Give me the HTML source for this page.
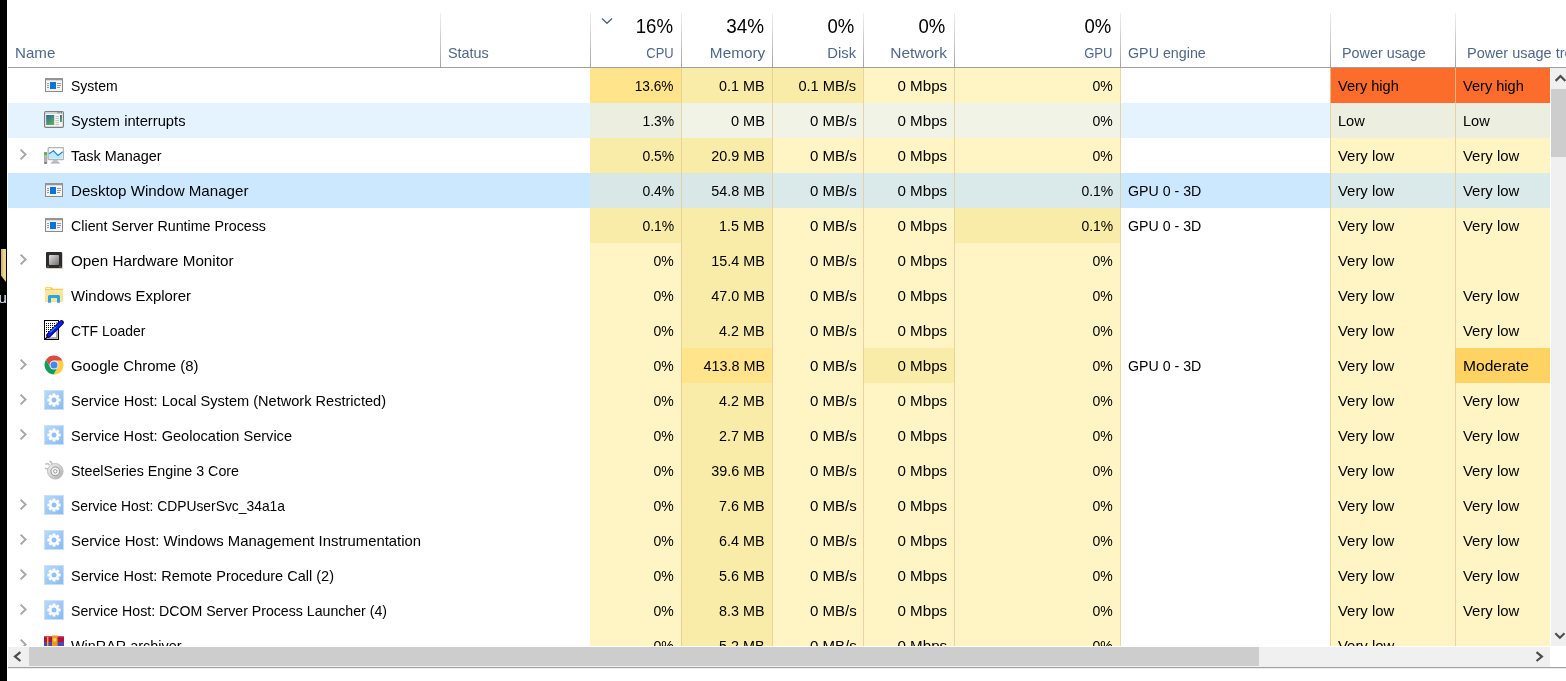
<!DOCTYPE html>
<html lang="en"><head><meta charset="utf-8"><title>Task Manager</title>
<style>
*{box-sizing:border-box;margin:0;padding:0}
html,body{width:1566px;height:681px;overflow:hidden;background:#fff}
body{position:relative;font-family:"Liberation Sans",sans-serif;font-size:15px;color:#000}
#strip{position:absolute;left:0;top:0;width:7px;height:681px;background:#000;overflow:hidden}
#fold{position:absolute;left:1px;top:249px;width:5px;height:33px;background:linear-gradient(90deg,#cdb06c,#dcc27e 40%,#eed898 55%,#e8d08a);clip-path:polygon(0 0,100% 0,100% 100%,0 80%)}
#u{position:absolute;left:-1.5px;top:289px;font-size:15px;color:#dfeaff;line-height:18px}
#list{position:absolute;left:8px;top:68px;width:1542px;height:578px;overflow:hidden}
#inner{position:absolute;left:-8px;top:-68px;width:1566px;height:681px}
.col{position:absolute;top:68px;height:578px;background:#fff4c4}
.cs{position:absolute;top:68px;height:578px;width:1px;background:rgba(230,202,152,.8)}
.rowbg{position:absolute;left:8px;width:1542px;height:35px}
.hc{position:absolute;height:35px}
.t{position:absolute;height:35px;line-height:35px;white-space:nowrap;transform-origin:0 50%}
.r{text-align:right;transform-origin:100% 50% !important}
.ic{position:absolute;left:44px;width:20px;height:20px}
.ic svg{display:block}
.chev{position:absolute;left:19px}
.hs{position:absolute;top:13px;width:1px;height:54px;background:linear-gradient(#efefef,#d4d4d4 40%,#a4a4a4)}
#hline{position:absolute;left:8px;top:67px;width:1558px;height:1px;background:#a0a0a0}
.h{position:absolute;top:43px;height:20px;line-height:20px;white-space:nowrap;color:#50678a;font-size:15px;transform-origin:0 50%}
.p{position:absolute;top:13px;height:26px;line-height:26px;white-space:nowrap;color:#000;font-size:19.5px;transform-origin:100% 50%}
#sort{position:absolute;left:601.4px;top:17px}
#hsb{position:absolute;left:8px;top:647px;width:1542px;height:20px;background:#f0f0f0}
#hth{position:absolute;left:21px;top:0;width:1230px;height:19px;background:#cdcdcd}
#bline{position:absolute;left:8px;top:667px;width:1558px;height:2px;background:linear-gradient(#a2a2a2 50%,#ececec 50%)}
#vsb{position:absolute;left:1551px;top:68px;width:15px;height:578px;background:#f0f0f0}
#vth{position:absolute;left:0;top:21px;width:15px;height:67.5px;background:#cdcdcd}
.arr{position:absolute}

#t0{transform:scaleX(0.9337)}#t1{transform:scaleX(0.9119)}#t2{transform:scaleX(0.9573)}#t3{transform:scaleX(0.9766)}#t4{transform:scaleX(1.0121)}#t5{transform:scaleX(0.9360)}#t6{transform:scaleX(0.9721)}#t7{transform:scaleX(0.9721)}#t8{transform:scaleX(0.9810)}#t9{transform:scaleX(0.9297)}#t10{transform:scaleX(0.9739)}#t11{transform:scaleX(1.0024)}#t12{transform:scaleX(1.0121)}#t13{transform:scaleX(0.9360)}#t14{transform:scaleX(0.9734)}#t15{transform:scaleX(0.9734)}#t16{transform:scaleX(0.9605)}#t17{transform:scaleX(0.9297)}#t18{transform:scaleX(0.9593)}#t19{transform:scaleX(1.0024)}#t20{transform:scaleX(1.0121)}#t21{transform:scaleX(0.9360)}#t22{transform:scaleX(0.9929)}#t23{transform:scaleX(0.9929)}#t24{transform:scaleX(1.0090)}#t25{transform:scaleX(0.9297)}#t26{transform:scaleX(0.9593)}#t27{transform:scaleX(1.0024)}#t28{transform:scaleX(1.0121)}#t29{transform:scaleX(0.9297)}#t30{transform:scaleX(0.9454)}#t31{transform:scaleX(0.9929)}#t32{transform:scaleX(0.9929)}#t33{transform:scaleX(0.9509)}#t34{transform:scaleX(0.9297)}#t35{transform:scaleX(0.9573)}#t36{transform:scaleX(1.0024)}#t37{transform:scaleX(1.0121)}#t38{transform:scaleX(0.9297)}#t39{transform:scaleX(0.9454)}#t40{transform:scaleX(0.9929)}#t41{transform:scaleX(0.9929)}#t42{transform:scaleX(1.0151)}#t43{transform:scaleX(0.9360)}#t44{transform:scaleX(0.9593)}#t45{transform:scaleX(1.0024)}#t46{transform:scaleX(1.0121)}#t47{transform:scaleX(0.9360)}#t48{transform:scaleX(0.9929)}#t49{transform:scaleX(0.9928)}#t50{transform:scaleX(0.9360)}#t51{transform:scaleX(0.9593)}#t52{transform:scaleX(1.0024)}#t53{transform:scaleX(1.0121)}#t54{transform:scaleX(0.9360)}#t55{transform:scaleX(0.9929)}#t56{transform:scaleX(0.9929)}#t57{transform:scaleX(0.9307)}#t58{transform:scaleX(0.9360)}#t59{transform:scaleX(0.9573)}#t60{transform:scaleX(1.0024)}#t61{transform:scaleX(1.0121)}#t62{transform:scaleX(0.9360)}#t63{transform:scaleX(0.9929)}#t64{transform:scaleX(0.9929)}#t65{transform:scaleX(0.9931)}#t66{transform:scaleX(0.9360)}#t67{transform:scaleX(0.9608)}#t68{transform:scaleX(1.0024)}#t69{transform:scaleX(1.0121)}#t70{transform:scaleX(0.9360)}#t71{transform:scaleX(0.9454)}#t72{transform:scaleX(0.9929)}#t73{transform:scaleX(1.0383)}#t74{transform:scaleX(0.9714)}#t75{transform:scaleX(0.9360)}#t76{transform:scaleX(0.9573)}#t77{transform:scaleX(1.0024)}#t78{transform:scaleX(1.0121)}#t79{transform:scaleX(0.9360)}#t80{transform:scaleX(0.9929)}#t81{transform:scaleX(0.9929)}#t82{transform:scaleX(0.9710)}#t83{transform:scaleX(0.9360)}#t84{transform:scaleX(0.9573)}#t85{transform:scaleX(1.0024)}#t86{transform:scaleX(1.0121)}#t87{transform:scaleX(0.9360)}#t88{transform:scaleX(0.9929)}#t89{transform:scaleX(0.9929)}#t90{transform:scaleX(0.9503)}#t91{transform:scaleX(0.9360)}#t92{transform:scaleX(0.9593)}#t93{transform:scaleX(1.0024)}#t94{transform:scaleX(1.0121)}#t95{transform:scaleX(0.9360)}#t96{transform:scaleX(0.9929)}#t97{transform:scaleX(0.9929)}#t98{transform:scaleX(0.9233)}#t99{transform:scaleX(0.9360)}#t100{transform:scaleX(0.9573)}#t101{transform:scaleX(1.0024)}#t102{transform:scaleX(1.0121)}#t103{transform:scaleX(0.9360)}#t104{transform:scaleX(0.9929)}#t105{transform:scaleX(0.9929)}#t106{transform:scaleX(0.9901)}#t107{transform:scaleX(0.9360)}#t108{transform:scaleX(0.9573)}#t109{transform:scaleX(1.0024)}#t110{transform:scaleX(1.0121)}#t111{transform:scaleX(0.9360)}#t112{transform:scaleX(0.9929)}#t113{transform:scaleX(0.9929)}#t114{transform:scaleX(0.9677)}#t115{transform:scaleX(0.9360)}#t116{transform:scaleX(0.9573)}#t117{transform:scaleX(1.0024)}#t118{transform:scaleX(1.0121)}#t119{transform:scaleX(0.9360)}#t120{transform:scaleX(0.9929)}#t121{transform:scaleX(0.9929)}#t122{transform:scaleX(0.9430)}#t123{transform:scaleX(0.9360)}#t124{transform:scaleX(0.9573)}#t125{transform:scaleX(1.0024)}#t126{transform:scaleX(1.0121)}#t127{transform:scaleX(0.9360)}#t128{transform:scaleX(0.9929)}#t129{transform:scaleX(0.9929)}#t130{transform:scaleX(0.9606)}#t131{transform:scaleX(0.9360)}#t132{transform:scaleX(0.9573)}#t133{transform:scaleX(1.0024)}#t134{transform:scaleX(1.0121)}#t135{transform:scaleX(0.9360)}#t136{transform:scaleX(0.9929)}#t137{transform:scaleX(1.0071)}#t138{transform:scaleX(0.9593)}#t139{transform:scaleX(0.8620)}#t140{transform:scaleX(1.0208)}#t141{transform:scaleX(0.9873)}#t142{transform:scaleX(1.0324)}#t143{transform:scaleX(0.8704)}#t144{transform:scaleX(0.9520)}#t145{transform:scaleX(0.9570)}#t146{transform:scaleX(0.9673)}#t147{transform:scaleX(0.9556)}#t148{transform:scaleX(0.9685)}#t149{transform:scaleX(0.9508)}#t150{transform:scaleX(0.9508)}#t151{transform:scaleX(0.9508)}
</style></head><body>
<div id="strip"><div id="fold"></div><div id="u">u</div></div>
<div class="hs" style="left:440px"></div>
<div class="hs" style="left:590px"></div>
<div class="hs" style="left:681px"></div>
<div class="hs" style="left:772px"></div>
<div class="hs" style="left:863px"></div>
<div class="hs" style="left:954px"></div>
<div class="hs" style="left:1120px"></div>
<div class="hs" style="left:1330px"></div>
<div class="hs" style="left:1455px"></div>
<div class="h" id="t137" style="left:15px">Name</div>
<div class="h" id="t138" style="left:448px">Status</div>
<div class="h r" id="t139" style="right:892px">CPU</div>
<div class="h r" id="t140" style="right:800.5px">Memory</div>
<div class="h r" id="t141" style="right:709.5px">Disk</div>
<div class="h r" id="t142" style="right:618.5px">Network</div>
<div class="h r" id="t143" style="right:453px">GPU</div>
<div class="h" id="t144" style="left:1128px">GPU engine</div>
<div class="h" id="t145" style="left:1342px">Power usage</div>
<div class="h" id="t146" style="left:1467px">Power usage trend</div>
<div class="p r" id="t147" style="right:892.5px">16%</div>
<div class="p r" id="t148" style="right:801.5px">34%</div>
<div class="p r" id="t149" style="right:711.5px">0%</div>
<div class="p r" id="t150" style="right:620.5px">0%</div>
<div class="p r" id="t151" style="right:454.5px">0%</div>
<svg id="sort" width="12" height="8" viewBox="0 0 12 8"><path d="M1 1.5 L6 6.3 L11 1.5" fill="none" stroke="#4c607a" stroke-width="1.2"/></svg>
<div id="hline"></div>
<div id="list"><div id="inner">
<div class="col" style="left:590px;width:91px"></div><div class="col" style="left:681px;width:91px"></div><div class="col" style="left:772px;width:91px"></div><div class="col" style="left:863px;width:91px"></div><div class="col" style="left:954px;width:166px"></div><div class="col" style="left:1330px;width:125px"></div><div class="col" style="left:1455px;width:95px"></div>
<div class="hc" style="left:590px;top:68px;width:91px;background:#ffe48c"></div>
<div class="hc" style="left:681px;top:68px;width:91px;background:#f9eca8"></div>
<div class="hc" style="left:772px;top:68px;width:91px;background:#f9eca8"></div>
<div class="hc" style="left:1330px;top:68px;width:125px;background:#fc6c2a"></div>
<div class="hc" style="left:1455px;top:68px;width:95px;background:#fc6c2a"></div>
<div class="ic" style="top:75px"><svg width="20" height="20" viewBox="0 0 20 20"><rect x="1.5" y="3.5" width="17" height="13" fill="#f4f4f4" stroke="#8a8a8a"/><rect x="1" y="3" width="18" height="2" fill="#949494"/><rect x="2" y="5" width="16" height="1" fill="#dcdcdc"/><rect x="6" y="7" width="6" height="7" fill="#0b73da"/><path d="M3 8.5h2M3 10.5h2M3 12.5h2M13 8.5h4M13 10.5h4M13 12.5h3" stroke="#9a9a9a" stroke-width="1"/></svg></div>
<div class="t nm" id="t0" style="left:71px;top:68px">System</div>
<div class="t r" id="t1" style="right:892px;top:68px">13.6%</div>
<div class="t r" id="t2" style="right:801px;top:68px">0.1 MB</div>
<div class="t r" id="t3" style="right:709.5px;top:68px">0.1 MB/s</div>
<div class="t r" id="t4" style="right:618.5px;top:68px">0 Mbps</div>
<div class="t r" id="t5" style="right:453px;top:68px">0%</div>
<div class="t" id="t6" style="left:1338px;top:68px">Very high</div>
<div class="t" id="t7" style="left:1463px;top:68px">Very high</div>
<div class="rowbg" style="top:103px;background:#e5f3ff"></div>
<div class="hc" style="left:590px;top:103px;width:91px;background:#ecefe0"></div>
<div class="hc" style="left:681px;top:103px;width:91px;background:#f0f3e6"></div>
<div class="hc" style="left:772px;top:103px;width:91px;background:#f0f3e6"></div>
<div class="hc" style="left:863px;top:103px;width:91px;background:#f0f3e6"></div>
<div class="hc" style="left:954px;top:103px;width:166px;background:#f0f3e6"></div>
<div class="hc" style="left:1330px;top:103px;width:125px;background:#ecefe0"></div>
<div class="hc" style="left:1455px;top:103px;width:95px;background:#ecefe0"></div>
<div class="ic" style="top:110px"><svg width="20" height="20" viewBox="0 0 20 20"><defs><linearGradient id="gi" x1="0" y1="0" x2="0.6" y2="1"><stop offset="0" stop-color="#2d62a8"/><stop offset="1" stop-color="#56ae57"/></linearGradient></defs><rect x="0.6" y="1.6" width="18.8" height="15.8" rx="1.2" fill="#f6f6f6" stroke="#7d7d7d" stroke-width="1.2"/><rect x="1.2" y="2.2" width="17.6" height="1.6" fill="#cfcfcf"/><path d="M13.5 2.8h1M15.3 2.8h1M17 2.8h1" stroke="#555" stroke-width="1"/><rect x="2.2" y="5" width="8" height="10" fill="url(#gi)"/><path d="M11.5 6.5h3.5M11.5 8.5h3.5M11.5 10.5h3.5M11.5 12.5h3.5M11.5 14.5h3.5" stroke="#c4c4c4" stroke-width="1"/><rect x="16" y="5" width="2" height="7" fill="url(#gi)"/></svg></div>
<div class="t nm" id="t8" style="left:71px;top:103px">System interrupts</div>
<div class="t r" id="t9" style="right:892px;top:103px">1.3%</div>
<div class="t r" id="t10" style="right:801px;top:103px">0 MB</div>
<div class="t r" id="t11" style="right:709.5px;top:103px">0 MB/s</div>
<div class="t r" id="t12" style="right:618.5px;top:103px">0 Mbps</div>
<div class="t r" id="t13" style="right:453px;top:103px">0%</div>
<div class="t" id="t14" style="left:1338px;top:103px">Low</div>
<div class="t" id="t15" style="left:1463px;top:103px">Low</div>
<div class="hc" style="left:590px;top:138px;width:91px;background:#f9eca8"></div>
<div class="hc" style="left:681px;top:138px;width:91px;background:#f9eca8"></div>
<svg class="chev" style="top:148px" width="9" height="13" viewBox="0 0 9 13"><path d="M1.6 1.6 L6.6 6.5 L1.6 11.4" fill="none" stroke="#a6a6a6" stroke-width="1.9"/></svg>
<div class="ic" style="top:145px"><svg width="20" height="20" viewBox="0 0 20 20"><rect x="0.3" y="7.3" width="2.6" height="11.2" fill="#b9b9b9" stroke="#8f8f8f" stroke-width="0.6"/><rect x="0.5" y="7.4" width="2.2" height="2.6" fill="#35c22c"/><rect x="0.3" y="17.2" width="2.6" height="1.4" fill="#777"/><path d="M9.5 15 L7 18 H15.5 L13 15Z" fill="#c2c2c2"/><rect x="6.8" y="17.6" width="9" height="0.9" fill="#a8a8a8"/><rect x="4.2" y="2.6" width="15.3" height="12" rx="0.8" fill="#fff" stroke="#b4b4b4" stroke-width="1.3"/><path d="M5 8.3 L9.5 5.8 L14 10.3 L18.7 7 V13.8 H5Z" fill="#bfe9fa"/><path d="M5 8.8 L9.5 5.8 L14 10.5 L18.7 6.8" fill="none" stroke="#1a86cf" stroke-width="1.1"/></svg></div>
<div class="t nm" id="t16" style="left:71px;top:138px">Task Manager</div>
<div class="t r" id="t17" style="right:892px;top:138px">0.5%</div>
<div class="t r" id="t18" style="right:801px;top:138px">20.9 MB</div>
<div class="t r" id="t19" style="right:709.5px;top:138px">0 MB/s</div>
<div class="t r" id="t20" style="right:618.5px;top:138px">0 Mbps</div>
<div class="t r" id="t21" style="right:453px;top:138px">0%</div>
<div class="t" id="t22" style="left:1338px;top:138px">Very low</div>
<div class="t" id="t23" style="left:1463px;top:138px">Very low</div>
<div class="rowbg" style="top:173px;background:#cce8ff"></div>
<div class="hc" style="left:590px;top:173px;width:91px;background:#d9e8e7"></div>
<div class="hc" style="left:681px;top:173px;width:91px;background:#d9e8e7"></div>
<div class="hc" style="left:772px;top:173px;width:91px;background:#dae9e9"></div>
<div class="hc" style="left:863px;top:173px;width:91px;background:#dae9e9"></div>
<div class="hc" style="left:954px;top:173px;width:166px;background:#dae9e9"></div>
<div class="hc" style="left:1330px;top:173px;width:125px;background:#dae9e9"></div>
<div class="hc" style="left:1455px;top:173px;width:95px;background:#dae9e9"></div>
<div class="ic" style="top:180px"><svg width="20" height="20" viewBox="0 0 20 20"><rect x="1.5" y="3.5" width="17" height="13" fill="#f4f4f4" stroke="#8a8a8a"/><rect x="1" y="3" width="18" height="2" fill="#949494"/><rect x="2" y="5" width="16" height="1" fill="#dcdcdc"/><rect x="6" y="7" width="6" height="7" fill="#0b73da"/><path d="M3 8.5h2M3 10.5h2M3 12.5h2M13 8.5h4M13 10.5h4M13 12.5h3" stroke="#9a9a9a" stroke-width="1"/></svg></div>
<div class="t nm" id="t24" style="left:71px;top:173px">Desktop Window Manager</div>
<div class="t r" id="t25" style="right:892px;top:173px">0.4%</div>
<div class="t r" id="t26" style="right:801px;top:173px">54.8 MB</div>
<div class="t r" id="t27" style="right:709.5px;top:173px">0 MB/s</div>
<div class="t r" id="t28" style="right:618.5px;top:173px">0 Mbps</div>
<div class="t r" id="t29" style="right:453px;top:173px">0.1%</div>
<div class="t" id="t30" style="left:1128px;top:173px">GPU 0 - 3D</div>
<div class="t" id="t31" style="left:1338px;top:173px">Very low</div>
<div class="t" id="t32" style="left:1463px;top:173px">Very low</div>
<div class="hc" style="left:590px;top:208px;width:91px;background:#f9eca8"></div>
<div class="hc" style="left:681px;top:208px;width:91px;background:#f9eca8"></div>
<div class="hc" style="left:954px;top:208px;width:166px;background:#f9eca8"></div>
<div class="ic" style="top:215px"><svg width="20" height="20" viewBox="0 0 20 20"><rect x="1.5" y="3.5" width="17" height="13" fill="#f4f4f4" stroke="#8a8a8a"/><rect x="1" y="3" width="18" height="2" fill="#949494"/><rect x="2" y="5" width="16" height="1" fill="#dcdcdc"/><rect x="6" y="7" width="6" height="7" fill="#0b73da"/><path d="M3 8.5h2M3 10.5h2M3 12.5h2M13 8.5h4M13 10.5h4M13 12.5h3" stroke="#9a9a9a" stroke-width="1"/></svg></div>
<div class="t nm" id="t33" style="left:71px;top:208px">Client Server Runtime Process</div>
<div class="t r" id="t34" style="right:892px;top:208px">0.1%</div>
<div class="t r" id="t35" style="right:801px;top:208px">1.5 MB</div>
<div class="t r" id="t36" style="right:709.5px;top:208px">0 MB/s</div>
<div class="t r" id="t37" style="right:618.5px;top:208px">0 Mbps</div>
<div class="t r" id="t38" style="right:453px;top:208px">0.1%</div>
<div class="t" id="t39" style="left:1128px;top:208px">GPU 0 - 3D</div>
<div class="t" id="t40" style="left:1338px;top:208px">Very low</div>
<div class="t" id="t41" style="left:1463px;top:208px">Very low</div>
<div class="hc" style="left:681px;top:243px;width:91px;background:#f9eca8"></div>
<svg class="chev" style="top:253px" width="9" height="13" viewBox="0 0 9 13"><path d="M1.6 1.6 L6.6 6.5 L1.6 11.4" fill="none" stroke="#a6a6a6" stroke-width="1.9"/></svg>
<div class="ic" style="top:250px"><svg width="20" height="20" viewBox="0 0 20 20"><defs><linearGradient id="go" x1="0" y1="0" x2="1" y2="1"><stop offset="0" stop-color="#e2e2e2"/><stop offset="1" stop-color="#6f6f6f"/></linearGradient></defs><rect x="2.6" y="2.6" width="16.4" height="16.4" rx="1" fill="#000" opacity=".18"/><rect x="2" y="2" width="16" height="16" rx="1" fill="#2b2b2b"/><rect x="5" y="5" width="10" height="10" rx="1" fill="url(#go)"/><path d="M3 16.8h2M15 16.8h2" stroke="#b08a20" stroke-width=".7"/></svg></div>
<div class="t nm" id="t42" style="left:71px;top:243px">Open Hardware Monitor</div>
<div class="t r" id="t43" style="right:892px;top:243px">0%</div>
<div class="t r" id="t44" style="right:801px;top:243px">15.4 MB</div>
<div class="t r" id="t45" style="right:709.5px;top:243px">0 MB/s</div>
<div class="t r" id="t46" style="right:618.5px;top:243px">0 Mbps</div>
<div class="t r" id="t47" style="right:453px;top:243px">0%</div>
<div class="t" id="t48" style="left:1338px;top:243px">Very low</div>
<div class="hc" style="left:681px;top:278px;width:91px;background:#f9eca8"></div>
<div class="ic" style="top:285px"><svg width="20" height="20" viewBox="0 0 20 20"><path d="M1 3.2 q0-1 1-1 h5.6 l1.4 1.5 H19 V17 H1Z" fill="#f7c947"/><rect x="2" y="3" width="4.5" height="1" fill="#fff8e0"/><rect x="1" y="4.8" width="18" height="12.1" fill="#ffe595"/><path d="M4 17.7 V11.5 q0-1.5 1.5-1.5 h9 q1.5 0 1.5 1.5 V17.7 H13 V13 H7 V17.7Z" fill="#27a6e5"/></svg></div>
<div class="t nm" id="t49" style="left:71px;top:278px">Windows Explorer</div>
<div class="t r" id="t50" style="right:892px;top:278px">0%</div>
<div class="t r" id="t51" style="right:801px;top:278px">47.0 MB</div>
<div class="t r" id="t52" style="right:709.5px;top:278px">0 MB/s</div>
<div class="t r" id="t53" style="right:618.5px;top:278px">0 Mbps</div>
<div class="t r" id="t54" style="right:453px;top:278px">0%</div>
<div class="t" id="t55" style="left:1338px;top:278px">Very low</div>
<div class="t" id="t56" style="left:1463px;top:278px">Very low</div>
<div class="hc" style="left:681px;top:313px;width:91px;background:#f9eca8"></div>
<div class="ic" style="top:320px"><svg width="20" height="20" viewBox="0 0 20 20"><rect x="0.5" y="0.5" width="14" height="19" fill="#fff" stroke="#000"/><path d="M13 2 V18 H2" fill="none" stroke="#9a9a9a" stroke-width="1.6"/><path d="M2 3.5h9M2 5.5h9M2 7.5h7M2 9.5h5M2 11.5h3" stroke="#000" stroke-width="1" stroke-dasharray="1 1"/><path d="M1 19 L4.5 16" stroke="#000" stroke-width="1.2"/><path d="M4.5 15.5 L17.5 2.5" stroke="#00005a" stroke-width="4.6" stroke-linecap="round"/><path d="M4.8 15.2 L17.3 2.7" stroke="#0a1cff" stroke-width="3" stroke-linecap="round"/><path d="M6 12.5 L12 6.5" stroke="#35d9ff" stroke-width="1"/></svg></div>
<div class="t nm" id="t57" style="left:71px;top:313px">CTF Loader</div>
<div class="t r" id="t58" style="right:892px;top:313px">0%</div>
<div class="t r" id="t59" style="right:801px;top:313px">4.2 MB</div>
<div class="t r" id="t60" style="right:709.5px;top:313px">0 MB/s</div>
<div class="t r" id="t61" style="right:618.5px;top:313px">0 Mbps</div>
<div class="t r" id="t62" style="right:453px;top:313px">0%</div>
<div class="t" id="t63" style="left:1338px;top:313px">Very low</div>
<div class="t" id="t64" style="left:1463px;top:313px">Very low</div>
<div class="hc" style="left:681px;top:348px;width:91px;background:#ffe48c"></div>
<div class="hc" style="left:863px;top:348px;width:91px;background:#f9eca8"></div>
<div class="hc" style="left:1455px;top:348px;width:95px;background:#ffd264"></div>
<svg class="chev" style="top:358px" width="9" height="13" viewBox="0 0 9 13"><path d="M1.6 1.6 L6.6 6.5 L1.6 11.4" fill="none" stroke="#a6a6a6" stroke-width="1.9"/></svg>
<div class="ic" style="top:355px"><svg width="20" height="20" viewBox="0 0 20 20"><path d="M6.23 12.18 L2.01 4.86 A9.5 9.5 0 0 1 18.45 5.65 L10.00 5.65 L10 10Z" fill="#dc4a3d"/><path d="M10.00 5.65 L18.45 5.65 A9.5 9.5 0 0 1 9.54 19.49 L13.77 12.17 L10 10Z" fill="#ffce43"/><path d="M13.77 12.17 L9.54 19.49 A9.5 9.5 0 0 1 2.01 4.86 L6.23 12.18 L10 10Z" fill="#109d59"/><circle cx="10" cy="10" r="4.5" fill="#f4f4f4"/><circle cx="10" cy="10" r="3.5" fill="#4586f3"/></svg></div>
<div class="t nm" id="t65" style="left:71px;top:348px">Google Chrome (8)</div>
<div class="t r" id="t66" style="right:892px;top:348px">0%</div>
<div class="t r" id="t67" style="right:801px;top:348px">413.8 MB</div>
<div class="t r" id="t68" style="right:709.5px;top:348px">0 MB/s</div>
<div class="t r" id="t69" style="right:618.5px;top:348px">0 Mbps</div>
<div class="t r" id="t70" style="right:453px;top:348px">0%</div>
<div class="t" id="t71" style="left:1128px;top:348px">GPU 0 - 3D</div>
<div class="t" id="t72" style="left:1338px;top:348px">Very low</div>
<div class="t" id="t73" style="left:1463px;top:348px">Moderate</div>
<div class="hc" style="left:681px;top:383px;width:91px;background:#f9eca8"></div>
<svg class="chev" style="top:393px" width="9" height="13" viewBox="0 0 9 13"><path d="M1.6 1.6 L6.6 6.5 L1.6 11.4" fill="none" stroke="#a6a6a6" stroke-width="1.9"/></svg>
<div class="ic" style="top:390px"><svg width="20" height="20" viewBox="0 0 20 20"><defs><linearGradient id="gs" x1="0" y1="0" x2="1" y2="1"><stop offset="0" stop-color="#badafa"/><stop offset="1" stop-color="#86baf0"/></linearGradient></defs><rect x="0.5" y="0.5" width="19" height="19" fill="url(#gs)" stroke="#c9e0f8"/><g transform="translate(10 10)" fill="#fff"><g id="th"><rect x="-1.5" y="-6.6" width="3" height="13.2" rx=".6"/></g><rect x="-1.5" y="-6.6" width="3" height="13.2" rx=".6" transform="rotate(45)"/><rect x="-1.5" y="-6.6" width="3" height="13.2" rx=".6" transform="rotate(90)"/><rect x="-1.5" y="-6.6" width="3" height="13.2" rx=".6" transform="rotate(135)"/><circle r="4.8"/><circle r="2.5" fill="#8fc1f4"/></g></svg></div>
<div class="t nm" id="t74" style="left:71px;top:383px">Service Host: Local System (Network Restricted)</div>
<div class="t r" id="t75" style="right:892px;top:383px">0%</div>
<div class="t r" id="t76" style="right:801px;top:383px">4.2 MB</div>
<div class="t r" id="t77" style="right:709.5px;top:383px">0 MB/s</div>
<div class="t r" id="t78" style="right:618.5px;top:383px">0 Mbps</div>
<div class="t r" id="t79" style="right:453px;top:383px">0%</div>
<div class="t" id="t80" style="left:1338px;top:383px">Very low</div>
<div class="t" id="t81" style="left:1463px;top:383px">Very low</div>
<div class="hc" style="left:681px;top:418px;width:91px;background:#f9eca8"></div>
<svg class="chev" style="top:428px" width="9" height="13" viewBox="0 0 9 13"><path d="M1.6 1.6 L6.6 6.5 L1.6 11.4" fill="none" stroke="#a6a6a6" stroke-width="1.9"/></svg>
<div class="ic" style="top:425px"><svg width="20" height="20" viewBox="0 0 20 20"><defs><linearGradient id="gs" x1="0" y1="0" x2="1" y2="1"><stop offset="0" stop-color="#badafa"/><stop offset="1" stop-color="#86baf0"/></linearGradient></defs><rect x="0.5" y="0.5" width="19" height="19" fill="url(#gs)" stroke="#c9e0f8"/><g transform="translate(10 10)" fill="#fff"><g id="th"><rect x="-1.5" y="-6.6" width="3" height="13.2" rx=".6"/></g><rect x="-1.5" y="-6.6" width="3" height="13.2" rx=".6" transform="rotate(45)"/><rect x="-1.5" y="-6.6" width="3" height="13.2" rx=".6" transform="rotate(90)"/><rect x="-1.5" y="-6.6" width="3" height="13.2" rx=".6" transform="rotate(135)"/><circle r="4.8"/><circle r="2.5" fill="#8fc1f4"/></g></svg></div>
<div class="t nm" id="t82" style="left:71px;top:418px">Service Host: Geolocation Service</div>
<div class="t r" id="t83" style="right:892px;top:418px">0%</div>
<div class="t r" id="t84" style="right:801px;top:418px">2.7 MB</div>
<div class="t r" id="t85" style="right:709.5px;top:418px">0 MB/s</div>
<div class="t r" id="t86" style="right:618.5px;top:418px">0 Mbps</div>
<div class="t r" id="t87" style="right:453px;top:418px">0%</div>
<div class="t" id="t88" style="left:1338px;top:418px">Very low</div>
<div class="t" id="t89" style="left:1463px;top:418px">Very low</div>
<div class="hc" style="left:681px;top:453px;width:91px;background:#f9eca8"></div>
<div class="ic" style="top:460px"><svg width="20" height="20" viewBox="0 0 20 20"><defs><linearGradient id="gq" x1="0" y1="0" x2="1" y2="1"><stop offset="0" stop-color="#f6f6f6"/><stop offset="1" stop-color="#adadad"/></linearGradient></defs><path d="M2 4 q1.5-1 3 .5 M6 1.5 q1.8 .3 2 2.5 M1.5 8.5 q1.5-.5 2.5 1" fill="none" stroke="#c6c6c6" stroke-width="1.8" stroke-linecap="round"/><circle cx="11.3" cy="11.3" r="7.8" fill="url(#gq)" stroke="#b4b4b4" stroke-width=".8"/><circle cx="11.3" cy="11.3" r="4.4" fill="#f0f0f0" stroke="#999" stroke-width="1"/><circle cx="11.3" cy="11.3" r="1.7" fill="#fff" stroke="#909090" stroke-width=".9"/></svg></div>
<div class="t nm" id="t90" style="left:71px;top:453px">SteelSeries Engine 3 Core</div>
<div class="t r" id="t91" style="right:892px;top:453px">0%</div>
<div class="t r" id="t92" style="right:801px;top:453px">39.6 MB</div>
<div class="t r" id="t93" style="right:709.5px;top:453px">0 MB/s</div>
<div class="t r" id="t94" style="right:618.5px;top:453px">0 Mbps</div>
<div class="t r" id="t95" style="right:453px;top:453px">0%</div>
<div class="t" id="t96" style="left:1338px;top:453px">Very low</div>
<div class="t" id="t97" style="left:1463px;top:453px">Very low</div>
<div class="hc" style="left:681px;top:488px;width:91px;background:#f9eca8"></div>
<svg class="chev" style="top:498px" width="9" height="13" viewBox="0 0 9 13"><path d="M1.6 1.6 L6.6 6.5 L1.6 11.4" fill="none" stroke="#a6a6a6" stroke-width="1.9"/></svg>
<div class="ic" style="top:495px"><svg width="20" height="20" viewBox="0 0 20 20"><defs><linearGradient id="gs" x1="0" y1="0" x2="1" y2="1"><stop offset="0" stop-color="#badafa"/><stop offset="1" stop-color="#86baf0"/></linearGradient></defs><rect x="0.5" y="0.5" width="19" height="19" fill="url(#gs)" stroke="#c9e0f8"/><g transform="translate(10 10)" fill="#fff"><g id="th"><rect x="-1.5" y="-6.6" width="3" height="13.2" rx=".6"/></g><rect x="-1.5" y="-6.6" width="3" height="13.2" rx=".6" transform="rotate(45)"/><rect x="-1.5" y="-6.6" width="3" height="13.2" rx=".6" transform="rotate(90)"/><rect x="-1.5" y="-6.6" width="3" height="13.2" rx=".6" transform="rotate(135)"/><circle r="4.8"/><circle r="2.5" fill="#8fc1f4"/></g></svg></div>
<div class="t nm" id="t98" style="left:71px;top:488px">Service Host: CDPUserSvc_34a1a</div>
<div class="t r" id="t99" style="right:892px;top:488px">0%</div>
<div class="t r" id="t100" style="right:801px;top:488px">7.6 MB</div>
<div class="t r" id="t101" style="right:709.5px;top:488px">0 MB/s</div>
<div class="t r" id="t102" style="right:618.5px;top:488px">0 Mbps</div>
<div class="t r" id="t103" style="right:453px;top:488px">0%</div>
<div class="t" id="t104" style="left:1338px;top:488px">Very low</div>
<div class="t" id="t105" style="left:1463px;top:488px">Very low</div>
<div class="hc" style="left:681px;top:523px;width:91px;background:#f9eca8"></div>
<svg class="chev" style="top:533px" width="9" height="13" viewBox="0 0 9 13"><path d="M1.6 1.6 L6.6 6.5 L1.6 11.4" fill="none" stroke="#a6a6a6" stroke-width="1.9"/></svg>
<div class="ic" style="top:530px"><svg width="20" height="20" viewBox="0 0 20 20"><defs><linearGradient id="gs" x1="0" y1="0" x2="1" y2="1"><stop offset="0" stop-color="#badafa"/><stop offset="1" stop-color="#86baf0"/></linearGradient></defs><rect x="0.5" y="0.5" width="19" height="19" fill="url(#gs)" stroke="#c9e0f8"/><g transform="translate(10 10)" fill="#fff"><g id="th"><rect x="-1.5" y="-6.6" width="3" height="13.2" rx=".6"/></g><rect x="-1.5" y="-6.6" width="3" height="13.2" rx=".6" transform="rotate(45)"/><rect x="-1.5" y="-6.6" width="3" height="13.2" rx=".6" transform="rotate(90)"/><rect x="-1.5" y="-6.6" width="3" height="13.2" rx=".6" transform="rotate(135)"/><circle r="4.8"/><circle r="2.5" fill="#8fc1f4"/></g></svg></div>
<div class="t nm" id="t106" style="left:71px;top:523px">Service Host: Windows Management Instrumentation</div>
<div class="t r" id="t107" style="right:892px;top:523px">0%</div>
<div class="t r" id="t108" style="right:801px;top:523px">6.4 MB</div>
<div class="t r" id="t109" style="right:709.5px;top:523px">0 MB/s</div>
<div class="t r" id="t110" style="right:618.5px;top:523px">0 Mbps</div>
<div class="t r" id="t111" style="right:453px;top:523px">0%</div>
<div class="t" id="t112" style="left:1338px;top:523px">Very low</div>
<div class="t" id="t113" style="left:1463px;top:523px">Very low</div>
<div class="hc" style="left:681px;top:558px;width:91px;background:#f9eca8"></div>
<svg class="chev" style="top:568px" width="9" height="13" viewBox="0 0 9 13"><path d="M1.6 1.6 L6.6 6.5 L1.6 11.4" fill="none" stroke="#a6a6a6" stroke-width="1.9"/></svg>
<div class="ic" style="top:565px"><svg width="20" height="20" viewBox="0 0 20 20"><defs><linearGradient id="gs" x1="0" y1="0" x2="1" y2="1"><stop offset="0" stop-color="#badafa"/><stop offset="1" stop-color="#86baf0"/></linearGradient></defs><rect x="0.5" y="0.5" width="19" height="19" fill="url(#gs)" stroke="#c9e0f8"/><g transform="translate(10 10)" fill="#fff"><g id="th"><rect x="-1.5" y="-6.6" width="3" height="13.2" rx=".6"/></g><rect x="-1.5" y="-6.6" width="3" height="13.2" rx=".6" transform="rotate(45)"/><rect x="-1.5" y="-6.6" width="3" height="13.2" rx=".6" transform="rotate(90)"/><rect x="-1.5" y="-6.6" width="3" height="13.2" rx=".6" transform="rotate(135)"/><circle r="4.8"/><circle r="2.5" fill="#8fc1f4"/></g></svg></div>
<div class="t nm" id="t114" style="left:71px;top:558px">Service Host: Remote Procedure Call (2)</div>
<div class="t r" id="t115" style="right:892px;top:558px">0%</div>
<div class="t r" id="t116" style="right:801px;top:558px">5.6 MB</div>
<div class="t r" id="t117" style="right:709.5px;top:558px">0 MB/s</div>
<div class="t r" id="t118" style="right:618.5px;top:558px">0 Mbps</div>
<div class="t r" id="t119" style="right:453px;top:558px">0%</div>
<div class="t" id="t120" style="left:1338px;top:558px">Very low</div>
<div class="t" id="t121" style="left:1463px;top:558px">Very low</div>
<div class="hc" style="left:681px;top:593px;width:91px;background:#f9eca8"></div>
<svg class="chev" style="top:603px" width="9" height="13" viewBox="0 0 9 13"><path d="M1.6 1.6 L6.6 6.5 L1.6 11.4" fill="none" stroke="#a6a6a6" stroke-width="1.9"/></svg>
<div class="ic" style="top:600px"><svg width="20" height="20" viewBox="0 0 20 20"><defs><linearGradient id="gs" x1="0" y1="0" x2="1" y2="1"><stop offset="0" stop-color="#badafa"/><stop offset="1" stop-color="#86baf0"/></linearGradient></defs><rect x="0.5" y="0.5" width="19" height="19" fill="url(#gs)" stroke="#c9e0f8"/><g transform="translate(10 10)" fill="#fff"><g id="th"><rect x="-1.5" y="-6.6" width="3" height="13.2" rx=".6"/></g><rect x="-1.5" y="-6.6" width="3" height="13.2" rx=".6" transform="rotate(45)"/><rect x="-1.5" y="-6.6" width="3" height="13.2" rx=".6" transform="rotate(90)"/><rect x="-1.5" y="-6.6" width="3" height="13.2" rx=".6" transform="rotate(135)"/><circle r="4.8"/><circle r="2.5" fill="#8fc1f4"/></g></svg></div>
<div class="t nm" id="t122" style="left:71px;top:593px">Service Host: DCOM Server Process Launcher (4)</div>
<div class="t r" id="t123" style="right:892px;top:593px">0%</div>
<div class="t r" id="t124" style="right:801px;top:593px">8.3 MB</div>
<div class="t r" id="t125" style="right:709.5px;top:593px">0 MB/s</div>
<div class="t r" id="t126" style="right:618.5px;top:593px">0 Mbps</div>
<div class="t r" id="t127" style="right:453px;top:593px">0%</div>
<div class="t" id="t128" style="left:1338px;top:593px">Very low</div>
<div class="t" id="t129" style="left:1463px;top:593px">Very low</div>
<div class="hc" style="left:681px;top:628px;width:91px;background:#f9eca8"></div>
<svg class="chev" style="top:638px" width="9" height="13" viewBox="0 0 9 13"><path d="M1.6 1.6 L6.6 6.5 L1.6 11.4" fill="none" stroke="#a6a6a6" stroke-width="1.9"/></svg>
<div class="ic" style="top:635px"><svg width="20" height="20" viewBox="0 0 20 20"><rect x="0" y="1" width="20" height="6" fill="#b3123c"/><rect x="0" y="1" width="20" height="1.2" fill="#d64a78"/><rect x="0" y="7" width="20" height="6" fill="#4d46b0"/><rect x="0" y="13" width="20" height="6" fill="#2e8b3d"/><rect x="3" y="2" width="1.4" height="16" fill="#f0b428"/><rect x="8" y="0.5" width="5.6" height="18" fill="#e89b1c"/><rect x="9.3" y="3" width="3" height="3.6" rx="1" fill="#ffd45c"/></svg></div>
<div class="t nm" id="t130" style="left:71px;top:628px">WinRAR archiver</div>
<div class="t r" id="t131" style="right:892px;top:628px">0%</div>
<div class="t r" id="t132" style="right:801px;top:628px">5.2 MB</div>
<div class="t r" id="t133" style="right:709.5px;top:628px">0 MB/s</div>
<div class="t r" id="t134" style="right:618.5px;top:628px">0 Mbps</div>
<div class="t r" id="t135" style="right:453px;top:628px">0%</div>
<div class="t" id="t136" style="left:1338px;top:628px">Very low</div>
<div class="cs" style="left:681px"></div><div class="cs" style="left:772px"></div><div class="cs" style="left:863px"></div><div class="cs" style="left:954px"></div><div class="cs" style="left:1120px"></div><div class="cs" style="left:1330px"></div><div class="cs" style="left:1455px"></div>
</div></div>
<div id="vsb"><div id="vth"></div>
<svg class="arr" style="left:0;top:0" width="16" height="21" viewBox="0 0 16 21"><path d="M4.6 12.9 L9.5 8 L14.4 12.9" fill="none" stroke="#4d4d4d" stroke-width="2.2"/></svg>
<svg class="arr" style="left:0;top:558px" width="15" height="21" viewBox="0 0 16 21"><path d="M4.6 7.0 L9.5 11.9 L14.4 7.0" fill="none" stroke="#4d4d4d" stroke-width="2.2"/></svg>
</div>
<div id="hsb"><div id="hth"></div>
<svg class="arr" style="left:0;top:0" width="21" height="20" viewBox="0 0 21 20"><path d="M12.4 5.2 L7 9.6 L12.4 14" fill="none" stroke="#4d4d4d" stroke-width="2.2"/></svg>
<svg class="arr" style="left:1521px;top:0" width="21" height="20" viewBox="0 0 21 20"><path d="M7.5 5.2 L12.9 9.6 L7.5 14" fill="none" stroke="#4d4d4d" stroke-width="2.2"/></svg>
</div>
<div id="bline"></div>
</body></html>
